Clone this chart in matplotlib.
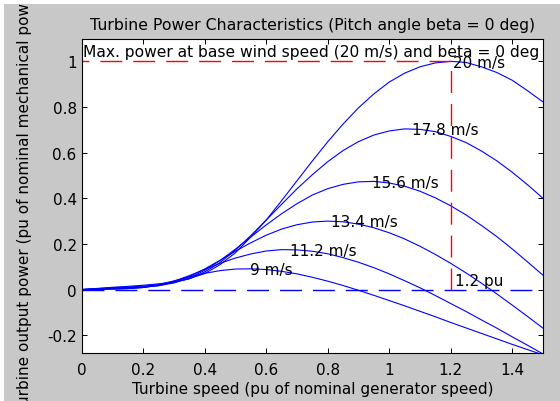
import matplotlib
matplotlib.use("Agg")
import matplotlib.pyplot as plt
from matplotlib.patches import Rectangle
from matplotlib.ticker import FuncFormatter

# turbine speed samples (pu of nominal generator speed)
speed = [0.0, 0.05, 0.1, 0.15, 0.2, 0.25, 0.3, 0.35, 0.4, 0.45, 0.5,
         0.55, 0.6, 0.65, 0.7, 0.75, 0.8, 0.85, 0.9, 0.95, 1.0,
         1.05, 1.1, 1.15, 1.2, 1.25, 1.3, 1.35, 1.4, 1.45, 1.5]

# output power (pu), one list per wind speed
p_9 = [0, 0.001, 0.002, 0.004, 0.009, 0.022, 0.038, 0.056, 0.071, 0.083, 0.090,
       0.091, 0.088, 0.080, 0.069, 0.054, 0.037, 0.018, -0.003, -0.025, -0.048,
       -0.071, -0.095, -0.119, -0.144, -0.168, -0.192, -0.216, -0.240, -0.263, -0.286]
p_11_2 = [0, 0.002, 0.003, 0.005, 0.009, 0.019, 0.036, 0.061, 0.088, 0.115, 0.138,
          0.156, 0.169, 0.175, 0.174, 0.168, 0.157, 0.140, 0.120, 0.096, 0.069,
          0.039, 0.008, -0.026, -0.061, -0.096, -0.133, -0.169, -0.207, -0.244, -0.282]
p_13_4 = [0, 0.002, 0.004, 0.007, 0.010, 0.017, 0.032, 0.057, 0.090, 0.128, 0.168,
          0.205, 0.238, 0.265, 0.284, 0.296, 0.300, 0.297, 0.287, 0.271, 0.249,
          0.222, 0.190, 0.154, 0.115, 0.073, 0.028, -0.019, -0.068, -0.118, -0.169]
p_15_6 = [0, 0.003, 0.006, 0.009, 0.012, 0.017, 0.029, 0.051, 0.084, 0.127, 0.177,
          0.230, 0.283, 0.332, 0.376, 0.414, 0.442, 0.461, 0.472, 0.474, 0.467,
          0.453, 0.431, 0.402, 0.367, 0.327, 0.281, 0.232, 0.178, 0.121, 0.063]
p_17_8 = [0, 0.004, 0.008, 0.011, 0.015, 0.021, 0.031, 0.047, 0.077, 0.118, 0.173,
          0.236, 0.304, 0.373, 0.441, 0.503, 0.560, 0.609, 0.648, 0.677, 0.695,
          0.704, 0.702, 0.692, 0.671, 0.644, 0.607, 0.564, 0.514, 0.459, 0.400]
p_20 = [0, 0.005, 0.010, 0.014, 0.019, 0.025, 0.033, 0.048, 0.070, 0.109, 0.161,
        0.230, 0.304, 0.389, 0.476, 0.563, 0.647, 0.725, 0.796, 0.857, 0.909,
        0.948, 0.976, 0.993, 1.0, 0.995, 0.976, 0.951, 0.917, 0.871, 0.822]

curves = [p_9, p_11_2, p_13_4, p_15_6, p_17_8, p_20]
wind_labels = ['9 m/s', '11.2 m/s', '13.4 m/s', '15.6 m/s', '17.8 m/s', '20 m/s']
# where each curve peaks (label anchor)
peak_speed = [0.54, 0.672, 0.804, 0.936, 1.068, 1.2]
peak_power = [0.091, 0.176, 0.301, 0.475, 0.705, 1.0]

base_speed = 1.2
max_power = 1.0

plt.rcParams['font.family'] = ['DejaVu Sans']
plt.rcParams['font.size'] = 11
plt.rcParams['axes.unicode_minus'] = False

fig = plt.figure(figsize=(5.6, 4.02), dpi=100, facecolor='#c8c8c8')
ax = fig.add_axes([0.14554, 0.11816, 0.82411, 0.78358])

for p in curves:
    ax.plot(speed, p, color='b', lw=0.8)

dash = (15.8, 7.9)
ax.plot([0, speed[-1]], [0, 0], color='b', lw=1.0, dashes=dash)
# drawn from the base speed outwards, like the reference dash phase
ax.plot([base_speed, 0], [max_power, max_power], color='r', lw=1.0, dashes=dash)
ax.plot([base_speed, base_speed], [0, max_power], color='r', lw=1.0, dashes=dash)

for x, y, lab in zip(peak_speed, peak_power, wind_labels):
    ax.annotate(lab, (x, y), xytext=(1.5, -4), textcoords='offset points',
                va='baseline', ha='left')
ax.annotate('1.2 pu', (base_speed, 0.045), xytext=(3, -4),
            textcoords='offset points', va='baseline', ha='left')
ax.text(0.006, 1.022, 'Max. power at base wind speed (20 m/s) and beta = 0 deg',
        va='baseline', ha='left', fontsize=11.2, clip_on=True)

ax.set_xlim(0, 1.5)
ax.set_ylim(-0.28, 1.1)
ax.set_xticks([0, 0.2, 0.4, 0.6, 0.8, 1.0, 1.2, 1.4])
ax.set_yticks([-0.2, 0, 0.2, 0.4, 0.6, 0.8, 1.0])
ax.xaxis.set_major_formatter(FuncFormatter(lambda v, pos: f'{v:g}'))
ax.yaxis.set_major_formatter(FuncFormatter(lambda v, pos: f'{v:g}'))
ax.tick_params(direction='in', length=3.6, width=0.7, top=True, right=True,
               labelsize=11)
ax.tick_params(axis='x', pad=6)
ax.tick_params(axis='y', pad=3.5)
for s in ax.spines.values():
    s.set_linewidth(0.8)

ax.set_title('Turbine Power Characteristics (Pitch angle beta = 0 deg)',
             fontsize=11.3, pad=7)
ax.set_xlabel('Turbine speed (pu of nominal generator speed)', fontsize=11,
              labelpad=3)
ax.set_ylabel('Turbine output power (pu of nominal mechanical power)',
              fontsize=11)
ax.yaxis.set_label_coords(-0.108, 0.5)

# white screenshot margins on the left and top
fig.patches.append(Rectangle((0, 0), 4 / 560, 1, transform=fig.transFigure,
                             facecolor='white', edgecolor='none', zorder=10))
fig.patches.append(Rectangle((0, 1 - 5 / 402), 1, 5 / 402,
                             transform=fig.transFigure, facecolor='white',
                             edgecolor='none', zorder=10))

fig.savefig('out.png', dpi=100, facecolor=fig.get_facecolor())
plt.close(fig)
